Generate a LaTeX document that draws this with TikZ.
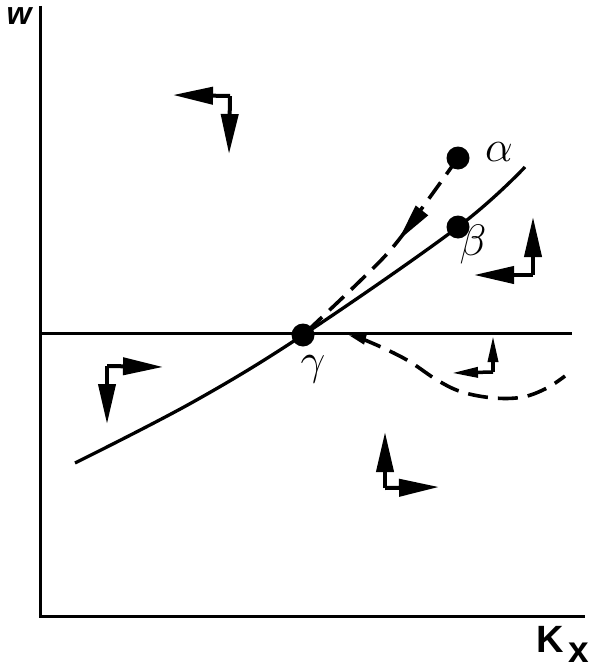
\documentclass[tikz,border=0pt]{standalone}
\usepackage{graphicx}
\usepackage{fontspec}
\setsansfont{Liberation Sans}
\usetikzlibrary{arrows.meta,decorations.markings}
\newcommand{\bigsym}[1]{{\Huge\scalebox{1.77}{$#1$}}}
\begin{document}
\begin{tikzpicture}[x=1pt,y=-1pt,
  ax/.style={line width=3pt},
  crv/.style={line width=3.3pt},
  dsh/.style={line width=3.6pt,dash pattern=on 20pt off 10pt},
  dot/.style={circle,fill=black,inner sep=0pt,minimum size=23pt},
  bigarr/.style={line width=4pt,-{Triangle[length=40pt,width=17pt]}},
  smallarr/.style={line width=3.5pt,-{Triangle[length=26pt,width=10pt]}},
  greek/.style={inner sep=0pt},
  lbl/.style={inner sep=0pt}]
\useasboundingbox (0,0) rectangle (590,669);
% axes
\coordinate (o) at (40,616);
\coordinate (ytop) at (40,6);
\coordinate (xend) at (585,616);
\draw[ax] (ytop) -- (o) -- (xend);
\node[lbl,font=\sffamily\bfseries\itshape\fontsize{32}{34}\selectfont] (w) at (19,16) {w};
\node[lbl,font=\sffamily\bfseries\fontsize{38}{40}\selectfont,anchor=base west] (kx) at (536,652) {K};
\node[lbl,font=\sffamily\bfseries\fontsize{37}{40}\selectfont,anchor=base west] (kxs) at (568,662) {x};
% horizontal line
\coordinate (h0) at (40,333);
\coordinate (h1) at (572,333);
\draw[ax] (h0) -- (h1);
% points
\node[dot] (g) at (303,335) {};
\node[dot] (b) at (458,227) {};
\node[dot] (a) at (458,158) {};
\node[greek] (al) at (499,152) {\bigsym{\alpha}};
\node[greek] (bl) at (473,244) {\bigsym{\beta}};
\node[greek] (gl) at (313,369) {\bigsym{\gamma}};
% solid line
\coordinate (s0) at (75,463);
\coordinate (s1) at (193,402);
\coordinate (s2) at (525,167);
\draw[crv] plot[smooth,tension=0.6] coordinates {(s0) (s1) (g.center) (b.center) (s2)};
% dashed alpha curve with arrow
\coordinate (d1) at (425,204);
\coordinate (d2) at (393,247);
\coordinate (d3) at (360,281);
\draw[dsh,postaction={decorate},decoration={markings,mark=at position 0.43 with {\arrow[line width=0pt]{Triangle[length=38pt,width=16pt]}}}]
  plot[smooth,tension=0.6] coordinates {(a.center) (d1) (d2) (d3) (g.center)};
% dashed wavy curve
\coordinate (w0) at (348,335);
\coordinate (w1) at (372,343);
\coordinate (w2) at (407,360);
\coordinate (w3) at (437,380);
\coordinate (w4) at (462,392);
\coordinate (w5) at (494,398);
\coordinate (w6) at (523,397);
\coordinate (w7) at (547,388);
\coordinate (w8) at (565,376);
\draw[dsh,{Triangle[length=18pt,width=9pt]}-] plot[smooth,tension=0.6] coordinates {(w0) (w1) (w2) (w3) (w4) (w5) (w6) (w7) (w8)};
% arrow pairs
\coordinate (c1) at (230,96);
\coordinate (c1l) at (173,95);
\coordinate (c1d) at (229,154);
\draw[bigarr] (c1) -- (c1l);
\draw[bigarr] (c1) -- (c1d);
\coordinate (c2) at (533,275);
\coordinate (c2u) at (533,217);
\coordinate (c2l) at (474,275);
\draw[bigarr] (c2) -- (c2u);
\draw[bigarr] (c2) -- (c2l);
\coordinate (c3) at (493,372);
\coordinate (c3u) at (493,336);
\coordinate (c3l) at (452,373);
\draw[smallarr] (c3) -- (c3u);
\draw[smallarr] (c3) -- (c3l);
\coordinate (c4) at (107,366);
\coordinate (c4r) at (163,367);
\coordinate (c4d) at (107,424);
\draw[bigarr] (c4) -- (c4r);
\draw[bigarr] (c4) -- (c4d);
\coordinate (c5) at (385,488);
\coordinate (c5u) at (385,432);
\coordinate (c5r) at (439,487);
\draw[bigarr] (c5) -- (c5u);
\draw[bigarr] (c5) -- (c5r);
\end{tikzpicture}
\end{document}
